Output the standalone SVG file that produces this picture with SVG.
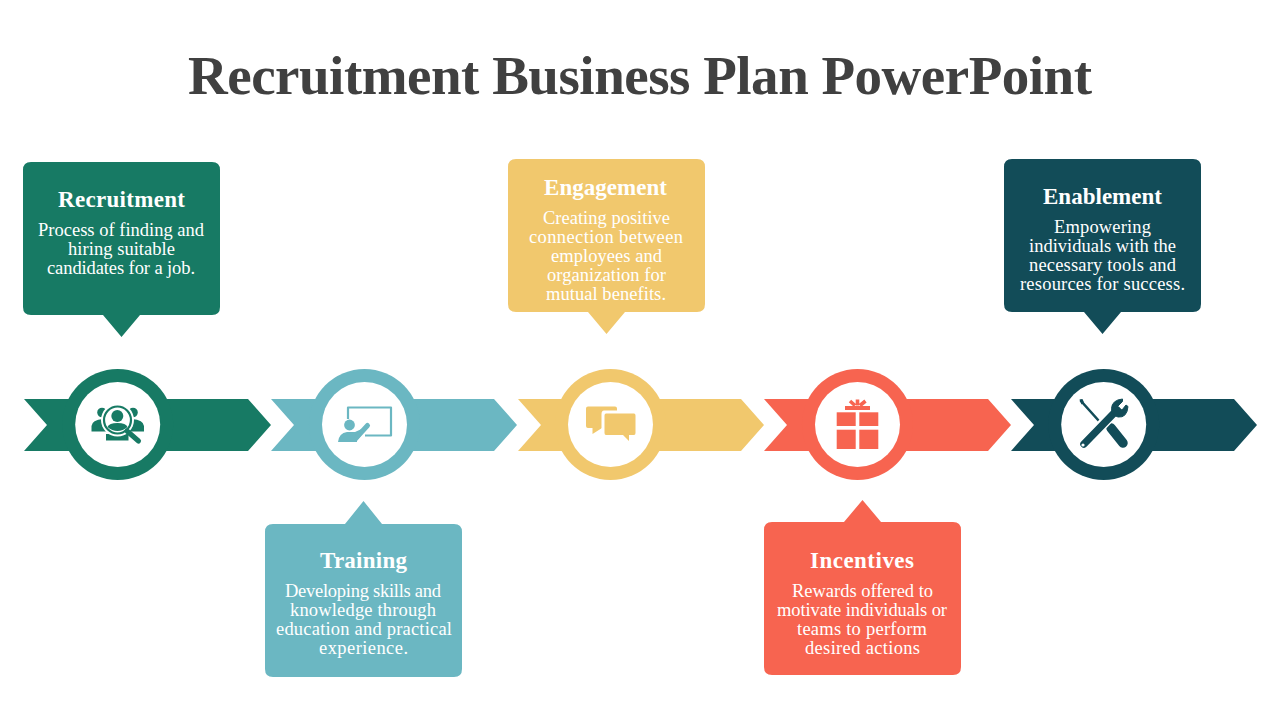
<svg xmlns="http://www.w3.org/2000/svg" width="1280" height="720" viewBox="0 0 1280 720">
<style>
text{font-family:"Liberation Serif","Times New Roman",serif;text-anchor:middle}
.title{font-size:55px;font-weight:700;fill:#404040}
.h{font-size:23px;font-weight:700;fill:#fff}
.b{font-size:18.5px;fill:#fff}
.g{fill:#177A64}.t{fill:#6BB7C2}.y{fill:#F1C86D}.r{fill:#F76450}.n{fill:#124C58}
.w{fill:#fff}
</style>
<rect width="1280" height="720" fill="#fff"/>
<text class="title" x="640" y="94" textLength="904">Recruitment Business Plan PowerPoint</text>

<g id="connectors">
<path class="g" d="M24 399H248L271 425L248 451H24L47 425Z"/>
<path class="t" d="M271 399H494L517 425L494 451H271L294 425Z"/>
<path class="y" d="M518 399H741L764 425L741 451H518L541 425Z"/>
<path class="r" d="M764 399H988L1011 425L988 451H764L787 425Z"/>
<path class="n" d="M1011 399H1234L1257 425L1234 451H1011L1034 425Z"/>
</g>

<g id="node-recruitment-icon">
<circle class="g" cx="117.7" cy="424.5" r="55.5"/><circle class="w" cx="117.7" cy="424.5" r="42.5"/>
<circle class="g" cx="102" cy="412.5" r="4.8"/><circle class="g" cx="133" cy="412.5" r="4.8"/>
<path class="g" d="M91.500 431.500V426Q92 420 103 419L110 431.500ZM144 431.500V426Q143.500 420 132 419L125 431.500Z"/>
<path class="g" d="M106 440.500V434H128.500V440.500Z"/>
<circle class="w" cx="117.500" cy="420" r="16.500"/>
<circle cx="117.500" cy="420" r="13.500" fill="none" stroke="#177A64" stroke-width="2.200"/>
<circle class="g" cx="117.300" cy="416" r="6"/>
<path class="g" d="M107.500 427Q109 423 117.500 423Q126 423 127.500 427Q123 431 117.500 431Q112 431 107.500 427Z"/>
<path d="M127 431L138.500 441" stroke="#177A64" stroke-width="5" stroke-linecap="round"/>
</g>

<g id="node-training-icon">
<circle class="t" cx="364.5" cy="424.5" r="55.5"/><circle class="w" cx="364.5" cy="424.5" r="42.5"/>
<path d="M348 419V407.500H391V435.500H365" fill="none" stroke="#6BB7C2" stroke-width="2.200" stroke-linejoin="round"/>
<circle class="t" cx="349.500" cy="425" r="5.400"/>
<path class="t" d="M338 442Q339 433 347 432H355L366 427L369 425L357 441V442Z"/>
<path d="M357 437L367.500 425.500" stroke="#6BB7C2" stroke-width="5" stroke-linecap="round"/>
</g>

<g id="node-engagement-icon">
<circle class="y" cx="610.5" cy="424.5" r="55.5"/><circle class="w" cx="610.5" cy="424.5" r="42.5"/>
<path class="y" d="M588 406.500H615Q617 406.500 617 408.500V428H602L592.500 434V428H588Q586 428 586 426V408.500Q586 406.500 588 406.500Z"/>
<path class="w" d="M604 412H635Q637 412 637 414V436Q637 437 635 437H630V443L624 437H605Q603 437 603 435V414Q603 412 604 412Z" stroke="#fff" stroke-width="3"/>
<path class="y" d="M606 413.500H634Q635.500 413.500 635.500 415.500V433Q635.500 435 634 435H629V441L623 435H606Q604.500 435 604.500 433V415.500Q604.500 413.500 606 413.500Z"/>
</g>

<g id="node-incentives-icon">
<circle class="r" cx="857.5" cy="424.5" r="55.5"/><circle class="w" cx="857.5" cy="424.5" r="42.5"/>
<rect class="r" x="836.700" y="412.300" width="19" height="13.700"/><rect class="r" x="859.300" y="412.300" width="19" height="13.700"/>
<rect class="r" x="836.700" y="429.700" width="19" height="19.300"/><rect class="r" x="859.300" y="429.700" width="19" height="19.300"/>
<rect class="r" x="845" y="406" width="25" height="4"/>
<path d="M857.500 405.500V399.500M855 405.500L850 401M860 405.500L865.500 401" stroke="#F76450" stroke-width="3.600" fill="none"/>
</g>

<g id="node-enablement-icon">
<circle class="n" cx="1103.7" cy="424.5" r="55.5"/><circle class="w" cx="1103.700" cy="424.5" r="42.500"/>
<path d="M1081 401L1099 421" stroke="#124C58" stroke-width="2.600" stroke-linecap="round"/>
<path class="n" d="M1079.500 399.500L1082.500 399L1084 402.500L1081.500 404.500Z"/>
<path d="M1111 428L1123 443" stroke="#124C58" stroke-width="9.500" stroke-linecap="round"/>
<path d="M1083 445L1117 409" stroke="#fff" stroke-width="11" stroke-linecap="butt"/>
<path d="M1084 444L1117 410" stroke="#124C58" stroke-width="7.500" stroke-linecap="round"/>
<circle class="w" cx="1083" cy="445" r="1.600"/>
<path class="n" d="M1122.500 399Q1112 400 1111.500 408.500Q1111.500 415 1118 417Q1127 418 1128 406.500L1126 405L1122 410L1117 407L1122.500 401.500Z" stroke="#124C58" stroke-width="1"/>
</g>

<g id="node-recruitment">
<path class="g" d="M31 162H212Q220 162 220 170V307Q220 315 212 315H140L121.500 337L103 315H31Q23 315 23 307V170Q23 162 31 162Z"/>
<text class="h" x="121.500" y="207" textLength="127">Recruitment</text>
<text class="b" x="121" y="236" textLength="166">Process of finding and</text>
<text class="b" x="121.500" y="255" textLength="107">hiring suitable</text>
<text class="b" x="121" y="274" textLength="148">candidates for a job.</text>
</g>

<g id="node-training">
<path class="t" d="M273 524H345L363.500 501L382 524H454Q462 524 462 532V669Q462 677 454 677H273Q265 677 265 669V532Q265 524 273 524Z"/>
<text class="h" x="363.500" y="568" textLength="87">Training</text>
<text class="b" x="363" y="597" textLength="156">Developing skills and</text>
<text class="b" x="363" y="616" textLength="146">knowledge through</text>
<text class="b" x="364" y="635" textLength="176">education and practical</text>
<text class="b" x="363.500" y="654" textLength="89">experience.</text>
</g>

<g id="node-engagement">
<path class="y" d="M516 159H697Q705 159 705 167V304Q705 312 697 312H625L606.500 334L588 312H516Q508 312 508 304V167Q508 159 516 159Z"/>
<text class="h" x="605.500" y="195" textLength="123">Engagement</text>
<text class="b" x="606.500" y="224" textLength="127">Creating positive</text>
<text class="b" x="606" y="243" textLength="154">connection between</text>
<text class="b" x="606.500" y="262" textLength="111">employees and</text>
<text class="b" x="606.500" y="281" textLength="119">organization for</text>
<text class="b" x="606" y="300" textLength="120">mutual benefits.</text>
</g>

<g id="node-incentives">
<path class="r" d="M772 522H844L862.500 500L881 522H953Q961 522 961 530V667Q961 675 953 675H772Q764 675 764 667V530Q764 522 772 522Z"/>
<text class="h" x="862" y="568" textLength="104">Incentives</text>
<text class="b" x="862.500" y="597" textLength="141">Rewards offered to</text>
<text class="b" x="862" y="616" textLength="170">motivate individuals or</text>
<text class="b" x="862" y="635" textLength="130">teams to perform</text>
<text class="b" x="862.500" y="654" textLength="115">desired actions</text>
</g>

<g id="node-enablement">
<path class="n" d="M1012 159H1193Q1201 159 1201 167V304Q1201 312 1193 312H1121L1102.500 334L1084 312H1012Q1004 312 1004 304V167Q1004 159 1012 159Z"/>
<text class="h" x="1102.500" y="204" textLength="119">Enablement</text>
<text class="b" x="1102.500" y="233" textLength="97">Empowering</text>
<text class="b" x="1102.500" y="252" textLength="147">individuals with the</text>
<text class="b" x="1102.500" y="271" textLength="147">necessary tools and</text>
<text class="b" x="1102.500" y="290" textLength="165">resources for success.</text>
</g>
</svg>
